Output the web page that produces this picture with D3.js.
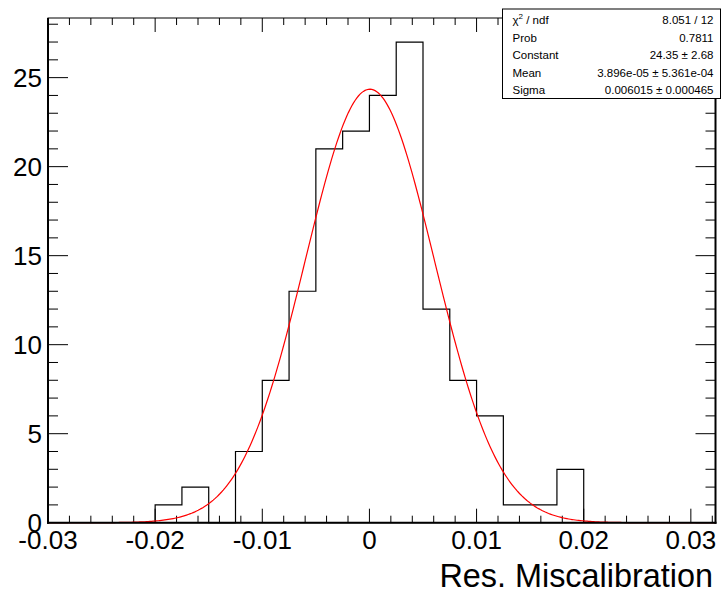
<!DOCTYPE html>
<html>
<head>
<meta charset="utf-8">
<script src="https://cdn.jsdelivr.net/npm/d3@7"></script>
<style>
  html, body { margin: 0; padding: 0; background: #fff; }
  svg { display: block; font-family: "Liberation Sans", Arial, Helvetica, sans-serif; }
</style>
</head>
<body>
<svg id="chart" width="721" height="592"></svg>
<script>
// ---- data ----
const binEdges = [-0.02, -0.0175, -0.015, -0.0125, -0.01, -0.0075, -0.005, -0.0025, 0,
                  0.0025, 0.005, 0.0075, 0.01, 0.0125, 0.015, 0.0175, 0.02];
const binCounts = [1, 2, 0, 4, 8, 13, 21, 22, 24, 27, 12, 8, 6, 1, 1, 3];
const xMajorTicks = [-0.03, -0.02, -0.01, 0, 0.01, 0.02, 0.03];
const xTickLabels = ["-0.03", "-0.02", "-0.01", "0", "0.01", "0.02", "0.03"];
const yMajorTicks = [0, 5, 10, 15, 20, 25];
const yTickLabels = ["0", "5", "10", "15", "20", "25"];
const fitConstant = 24.35, fitMean = 3.896e-05, fitSigma = 0.006015;
const statsLabels = ["χ2 / ndf", "Prob", "Constant", "Mean", "Sigma"];
const statsValues = ["8.051 / 12", "0.7811", "24.35 ± 2.68", "3.896e-05 ± 5.361e-04", "0.006015 ± 0.000465"];
const xTitle = "Res. Miscalibration";

// ---- layout ----
const svg = d3.select("#chart");
const L = 48, R = 715.5, T = 18, B = 522.7;
const x = d3.scaleLinear().domain([-0.03, 0.0323]).range([L, R]);
const y = d3.scaleLinear().domain([0, 28.35]).range([B, T]);

const xMinor = d3.range(-0.03, 0.0323, 0.002).filter(v => !xMajorTicks.some(m => Math.abs(m - v) < 1e-9));
const yMinor = d3.range(0, 28.35, 1).filter(v => v % 5 !== 0);

const tickColor = "#000";
const g = svg.append("g");

// frame
g.append("rect").attr("x", L).attr("y", T).attr("width", R - L).attr("height", B - T)
  .attr("fill", "none").attr("stroke", "#000").attr("stroke-width", 1);

// ticks bottom/top
function vtick(v, y0, len) {
  g.append("line").attr("x1", x(v)).attr("x2", x(v)).attr("y1", y0).attr("y2", y0 + len)
    .attr("stroke", tickColor).attr("stroke-width", 1);
}
xMajorTicks.forEach(v => { vtick(v, B, -14); vtick(v, T, 14); });
xMinor.forEach(v => { vtick(v, B, -7); vtick(v, T, 7); });
function htick(v, x0, len) {
  g.append("line").attr("x1", x0).attr("x2", x0 + len).attr("y1", y(v)).attr("y2", y(v))
    .attr("stroke", tickColor).attr("stroke-width", 1);
}
yMajorTicks.forEach(v => { htick(v, L, 20); htick(v, R, -20); });
yMinor.forEach(v => { htick(v, L, 10); htick(v, R, -10); });

// histogram outline
const pts = [[binEdges[0], 0]];
binCounts.forEach((c, i) => { pts.push([binEdges[i], c]); pts.push([binEdges[i + 1], c]); });
pts.push([binEdges[binEdges.length - 1], 0]);
g.append("path")
  .attr("d", d3.line().x(d => x(d[0])).y(d => y(d[1]))(pts))
  .attr("fill", "none").attr("stroke", "#000").attr("stroke-width", 1.2);

// fit curve
const gauss = v => fitConstant * Math.exp(-0.5 * Math.pow((v - fitMean) / fitSigma, 2));
const fx = d3.range(0, 401).map(i => -0.03 + i * (0.0323 + 0.03) / 400);
g.append("path")
  .attr("d", d3.line().x(v => x(v)).y(v => y(gauss(v))).curve(d3.curveLinear)(fx))
  .attr("fill", "none").attr("stroke", "#ff0000").attr("stroke-width", 1.2);

// axis lines (thicker)
g.append("line").attr("x1", L).attr("x2", L).attr("y1", T).attr("y2", B + 1).attr("stroke", "#000").attr("stroke-width", 2);
g.append("line").attr("x1", L - 1).attr("x2", R + 1).attr("y1", B).attr("y2", B).attr("stroke", "#000").attr("stroke-width", 2);
g.append("line").attr("x1", R).attr("x2", R).attr("y1", T).attr("y2", B + 1).attr("stroke", "#000").attr("stroke-width", 2);

// tick labels
xMajorTicks.forEach((v, i) => {
  g.append("text").attr("x", x(v)).attr("y", 549).attr("text-anchor", "middle")
    .attr("font-size", 26).attr("fill", "#000").text(xTickLabels[i]);
});
yMajorTicks.forEach((v, i) => {
  g.append("text").attr("x", 42).attr("y", y(v) + 9.5).attr("text-anchor", "end")
    .attr("font-size", 26).attr("fill", "#000").text(yTickLabels[i]);
});

// axis title
g.append("text").attr("x", 713).attr("y", 586.5).attr("text-anchor", "end")
  .attr("font-size", 32.4).attr("fill", "#000").text(xTitle);

// stats box
const bx = 502.5, by = 9, bw = 218, bh = 89.5;
g.append("rect").attr("x", bx).attr("y", by).attr("width", bw).attr("height", bh)
  .attr("fill", "#fff").attr("stroke", "#000").attr("stroke-width", 1);
const rowBase = [24, 41.6, 59.2, 76.8, 94.2];
statsLabels.forEach((lab, i) => {
  const t = g.append("text").attr("x", 512.5).attr("y", rowBase[i]).attr("font-size", 11.5).attr("fill", "#000");
  if (i === 0) {
    t.append("tspan").text("χ");
    t.append("tspan").attr("dy", -5).attr("font-size", 8).text("2");
    t.append("tspan").attr("dy", 5).text(" / ndf");
  } else {
    t.text(lab);
  }
  g.append("text").attr("x", 713.5).attr("y", rowBase[i]).attr("text-anchor", "end")
    .attr("font-size", 11.5).attr("fill", "#000").text(statsValues[i]);
});
</script>
</body>
</html>
